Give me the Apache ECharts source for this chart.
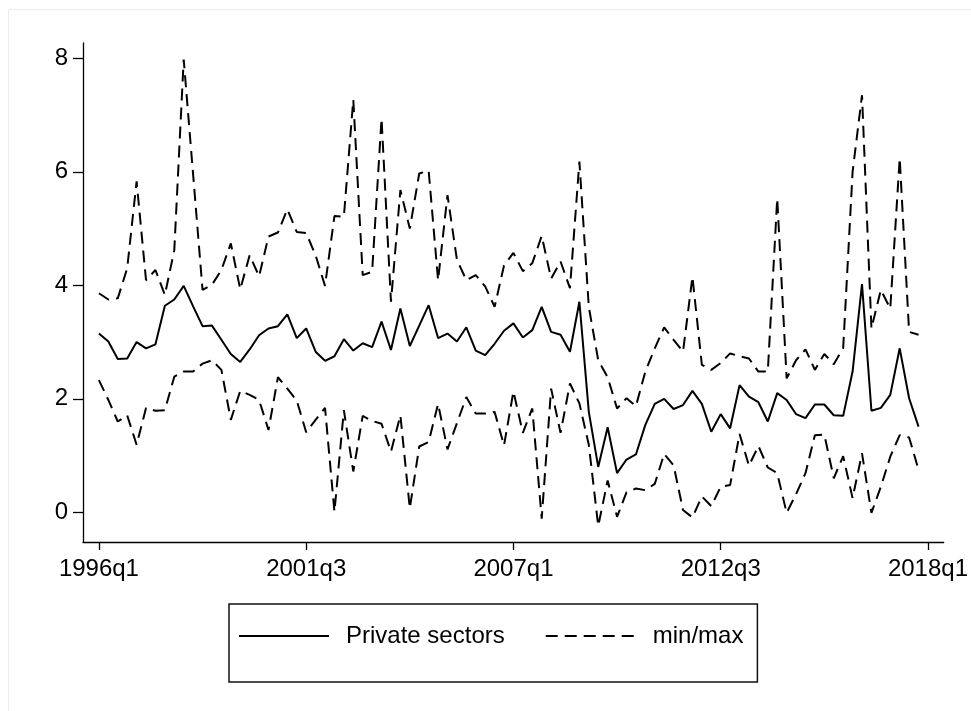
<!DOCTYPE html>
<html>
<head>
<meta charset="utf-8">
<script src="https://cdn.jsdelivr.net/npm/echarts@6/dist/echarts.min.js"></script>
<style>
html,body{margin:0;padding:0;background:#fff;}
#chart{width:971px;height:711px;}
</style>
</head>
<body>
<div id="chart"></div>
<script>
const quarters = [
 '1996q1','1996q2','1996q3','1996q4','1997q1','1997q2','1997q3','1997q4',
 '1998q1','1998q2','1998q3','1998q4','1999q1','1999q2','1999q3','1999q4',
 '2000q1','2000q2','2000q3','2000q4','2001q1','2001q2','2001q3','2001q4',
 '2002q1','2002q2','2002q3','2002q4','2003q1','2003q2','2003q3','2003q4',
 '2004q1','2004q2','2004q3','2004q4','2005q1','2005q2','2005q3','2005q4',
 '2006q1','2006q2','2006q3','2006q4','2007q1','2007q2','2007q3','2007q4',
 '2008q1','2008q2','2008q3','2008q4','2009q1','2009q2','2009q3','2009q4',
 '2010q1','2010q2','2010q3','2010q4','2011q1','2011q2','2011q3','2011q4',
 '2012q1','2012q2','2012q3','2012q4','2013q1','2013q2','2013q3','2013q4',
 '2014q1','2014q2','2014q3','2014q4','2015q1','2015q2','2015q3','2015q4',
 '2016q1','2016q2','2016q3','2016q4','2017q1','2017q2','2017q3','2017q4',
 '2018q1'
];
const xTickLabels = ['1996q1','2001q3','2007q1','2012q3','2018q1'];
const yTickValues = [0, 2, 4, 6, 8];

const privateSectors = [
 3.15,3.01,2.70,2.71,3.00,2.89,2.96,3.64,3.75,3.99,3.63,3.28,3.29,3.04,2.79,2.65,
 2.87,3.12,3.24,3.28,3.49,3.07,3.24,2.83,2.67,2.75,3.05,2.85,2.98,2.91,3.36,2.86,
 3.59,2.93,3.29,3.65,3.07,3.15,3.01,3.26,2.85,2.77,2.97,3.20,3.33,3.08,3.21,3.62,
 3.18,3.13,2.83,3.71,1.77,0.80,1.50,0.69,0.93,1.02,1.54,1.91,2.00,1.82,1.89,2.14,
 1.91,1.42,1.73,1.48,2.24,2.04,1.94,1.60,2.10,1.98,1.73,1.66,1.90,1.90,1.71,1.70,
 2.48,4.02,1.79,1.84,2.07,2.89,2.01,1.51
];
const maxValues = [
 3.86,3.75,3.77,4.30,5.83,4.09,4.27,3.83,4.62,7.98,5.95,3.92,4.01,4.27,4.74,3.93,
 4.53,4.16,4.86,4.93,5.34,4.94,4.92,4.53,3.99,5.22,5.21,7.27,4.18,4.24,6.94,3.71,
 5.68,5.00,5.97,6.02,4.09,5.59,4.45,4.09,4.18,3.98,3.62,4.35,4.57,4.25,4.39,4.87,
 4.12,4.42,3.95,6.18,3.62,2.68,2.38,1.83,2.01,1.87,2.48,2.89,3.26,3.04,2.83,4.15,
 2.60,2.51,2.63,2.80,2.75,2.71,2.48,2.48,5.53,2.36,2.68,2.87,2.51,2.79,2.61,2.89,
 6.00,7.35,3.24,3.92,3.59,6.24,3.18,3.13
];
const minValues = [
 2.33,1.98,1.60,1.71,1.19,1.84,1.79,1.80,2.39,2.48,2.48,2.62,2.68,2.51,1.63,2.14,
 2.07,1.98,1.45,2.38,2.18,1.97,1.41,1.63,1.84,0.01,1.80,0.72,1.70,1.61,1.56,1.07,
 1.71,0.07,1.16,1.24,1.91,1.11,1.57,2.03,1.74,1.74,1.77,1.18,2.13,1.40,1.83,-0.11,
 2.18,1.40,2.27,1.92,1.19,-0.24,0.56,-0.08,0.35,0.42,0.39,0.50,1.03,0.83,0.04,-0.09,
 0.28,0.11,0.45,0.48,1.38,0.82,1.17,0.79,0.69,-0.01,0.32,0.69,1.36,1.37,0.60,0.99,
 0.25,1.04,-0.01,0.45,0.98,1.36,1.32,0.75
];

const FONT = 'Liberation Sans, Arial, sans-serif';
const pairs = arr => arr.map((v, i) => [i, v]);
const xTickIdx = xTickLabels.map(l => quarters.indexOf(l));
const dash = [12, 7];

const chart = echarts.init(document.getElementById('chart'), null, {renderer: 'canvas'});
chart.setOption({
  animation: false,
  backgroundColor: '#ffffff',
  graphic: [{
    type: 'rect', silent: true, z: -10,
    shape: {x: 8.5, y: 9.5, width: 1200, height: 1200},
    style: {fill: 'none', stroke: '#ececec', lineWidth: 1}
  }],
  grid: {left: 83, right: 24, top: 43, bottom: 169, containLabel: false},
  xAxis: {
    type: 'value', min: -1.69, max: 89.67,
    axisLine: {show: true, onZero: false, lineStyle: {color: '#000', width: 1.3}},
    axisTick: {show: true, customValues: xTickIdx, length: 8, inside: false, lineStyle: {color: '#000', width: 1.3}},
    axisLabel: {customValues: xTickIdx, formatter: v => quarters[Math.round(v)], margin: 15,
      fontSize: 24, fontFamily: FONT, color: '#000'},
    splitLine: {show: false}
  },
  yAxis: {
    type: 'value', min: -0.523, max: 8.27,
    axisLine: {show: true, onZero: false, lineStyle: {color: '#000', width: 1.3}},
    axisTick: {show: true, customValues: yTickValues, length: 10, inside: false, lineStyle: {color: '#000', width: 1.3}},
    axisLabel: {customValues: yTickValues, margin: 15, fontSize: 24, fontFamily: FONT, color: '#000'},
    splitLine: {show: false}
  },
  legend: {
    left: 229, top: 604,
    data: ['Private sectors', 'min/max'],
    selectedMode: false,
    itemWidth: 90, itemHeight: 14, itemGap: 40,
    padding: [20, 14, 34, 9],
    borderColor: '#111', borderWidth: 1.5,
    itemStyle: {color: 'rgba(0,0,0,0)', borderWidth: 0, opacity: 0},
    textStyle: {fontSize: 24, fontFamily: FONT, color: '#000', padding: [0, 0, 0, 12]}
  },
  series: [
    {name: 'Private sectors', type: 'line', data: pairs(privateSectors), symbol: 'none',
     lineStyle: {color: '#000', width: 2}, itemStyle: {color: '#000'}},
    {name: 'min/max', type: 'line', data: pairs(maxValues), symbol: 'none',
     lineStyle: {color: '#000', width: 2, type: dash}, itemStyle: {color: '#000'}},
    {name: 'min/max', type: 'line', data: pairs(minValues), symbol: 'none',
     lineStyle: {color: '#000', width: 2, type: dash}, itemStyle: {color: '#000'}}
  ]
});
</script>
</body>
</html>
